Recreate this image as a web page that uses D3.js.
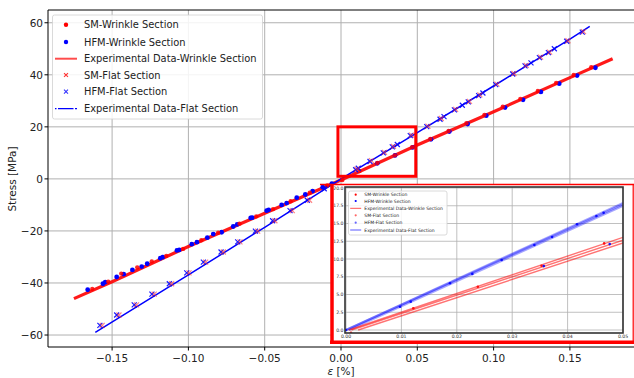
<!DOCTYPE html>
<html>
<head>
<meta charset="utf-8">
<script src="https://cdn.jsdelivr.net/npm/d3@7"></script>
<style>
  body { margin: 0; background: #fff; }
  svg { display: block; font-family: "DejaVu Sans", sans-serif; }
</style>
</head>
<body>
<svg id="chart" width="634" height="378"></svg>
<script>
// ---- data ----
// experimental curves
var expWrinkleX = [-0.175, -0.15, -0.1, -0.05, 0, 0.05, 0.1, 0.15, 0.178]
var expWrinkleY = [-46, -39.5, -26, -13.2, -0.4, 13, 25.8, 38.9, 46.2]
var expFlatX = [-0.161, -0.1, -0.05, 0, 0.05, 0.1, 0.15, 0.163]
var expFlatY = [-59, -36.9, -18.6, 0, 17.8, 35.7, 53.7, 58.6]

// HFM wrinkle section (blue dots)
var hfmWrinkleX = [-0.166, -0.156, -0.1545, -0.147, -0.1424, -0.1367, -0.1306, -0.127, -0.1184, -0.1168,
  -0.1075, -0.106, -0.0978, -0.0944, -0.0876, -0.0837, -0.0782, -0.0706, -0.068, -0.0592, -0.0582,
  -0.0487, -0.0474, -0.0389, -0.0356, -0.029, -0.0234, -0.0186, -0.012, -0.006,
  0.0238, 0.0354, 0.047, 0.059, 0.071, 0.083, 0.0952, 0.1075, 0.1193, 0.131, 0.143, 0.1547, 0.1667]
var hfmWrinkleY = [-42.6, -40.3, -39.7, -37.7, -36.6, -35, -33.7, -32.6, -30.5, -30.1,
  -27.5, -27.3, -25.1, -24.3, -22.6, -21.2, -20.5, -18.3, -17.5, -15, -14.9,
  -12.2, -11.9, -10, -9.3, -7.2, -6, -4.7, -3.2, -1.8,
  6.0, 9.0, 12.1, 15.2, 18.2, 21.1, 24.3, 27.4, 30.4, 33.4, 36.6, 39.7, 42.7]

// SM wrinkle section (red dots)
var smWrinkleX = [-0.163, -0.1525, -0.144, -0.1335, -0.124, -0.1145, -0.1035, -0.0915, -0.0805, -0.0665,
  -0.0555, -0.0445, -0.033, -0.0205, -0.009,
  0.0009, 0.01215, 0.0238, 0.0353, 0.0466, 0.0585, 0.0705, 0.0822, 0.094, 0.106, 0.1175, 0.129, 0.141, 0.1525, 0.164]
var smWrinkleY = [-42.3, -39.5, -36.4, -34, -31.7, -29.6, -26.9, -23.6, -20.7, -17.2,
  -14.4, -11.6, -8.6, -5.3, -2.5,
  -0.4, 3.05, 6.1, 9.05, 12.2, 15.3, 18.4, 21.4, 24.6, 27.7, 30.7, 33.8, 36.9, 39.9, 42.9]

// HFM flat section (blue x)
var hfmFlatX = [-0.158, -0.147, -0.1355, -0.1239, -0.1125, -0.1011, -0.0902, -0.0786, -0.0677, -0.0561,
  -0.0448, -0.0334, -0.0221, -0.011,
  0.0096, 0.0113, 0.019, 0.0277, 0.0336, 0.0369, 0.0454, 0.0562, 0.0649, 0.0675, 0.0743, 0.0795, 0.0834,
  0.0902, 0.093, 0.1014, 0.1125, 0.1206, 0.1245, 0.13, 0.1359, 0.1398, 0.1479, 0.1581]
var hfmFlatY = [-56.3, -52.3, -48.4, -44.3, -40.3, -36.1, -32, -28.1, -24.2, -20.1,
  -16.1, -12.2, -8.2, -3.8,
  3.5, 4.1, 6.7, 10, 12.3, 13.2, 16.6, 20.1, 22.9, 23.9, 26.5, 28.3, 29.6,
  32, 33, 36.2, 40.3, 43.4, 44.6, 46.6, 48.5, 50, 52.9, 56.4]

// SM flat section (red x)
var smFlatX = [-0.1565, -0.1455, -0.134, -0.1224, -0.111, -0.0996, -0.0887, -0.0771, -0.0662, -0.0546,
  -0.0433, -0.0319, -0.0206,
  0.0104, 0.0199, 0.0285, 0.0344, 0.0462, 0.057, 0.0657, 0.0751, 0.0842, 0.091, 0.1022, 0.1133,
  0.1214, 0.1308, 0.1367, 0.1487, 0.1589]
var smFlatY = [-56.3, -52.3, -48.4, -44.3, -40.3, -36.1, -32, -28.1, -24.2, -20.1,
  -16.1, -12.2, -8.2,
  3.7, 7.0, 10.2, 12.5, 16.8, 20.3, 23.2, 26.7, 29.8, 32.3, 36.4, 40.5,
  43.6, 46.8, 48.7, 53.1, 56.6]

// inset: experimental bands and model points
var insetWrinkleLinesX = [[0.0005, 0.05], [0.001, 0.05], [0.0022, 0.05]]
var insetWrinkleLinesY = [[0, 13.05], [0, 12.65], [0, 12.25]]
var insetFlatLinesX = [[0, 0.05], [0, 0.05], [0.0005, 0.05]]
var insetFlatLinesY = [[0, 17.9], [0, 17.7], [0, 17.5]]
var insetSmWrinkleX = [0.0009, 0.01215, 0.0238, 0.0353, 0.0466]
var insetSmWrinkleY = [-0.4, 3.05, 6.1, 9.05, 12.2]
var insetHfmWrinkleX = [0.0357, 0.0476]
var insetHfmWrinkleY = [9.0, 12.1]
var insetHfmFlatX = [0, 0.00975, 0.01168, 0.01877, 0.0228, 0.0281, 0.034, 0.0372, 0.0417, 0.0452, 0.0465]
var insetHfmFlatY = [0, 3.28, 3.99, 6.58, 7.9, 9.86, 11.97, 13.1, 14.9, 16.05, 16.5]

var xTicks = [-0.15, -0.10, -0.05, 0.00, 0.05, 0.10, 0.15]
var yTicks = [-60, -40, -20, 0, 20, 40, 60]
var insetXTicks = [0, 0.01, 0.02, 0.03, 0.04, 0.05]
var insetYTicks = [0, 2.5, 5, 7.5, 10, 12.5, 15, 17.5, 20]

var legendLabels = ['SM-Wrinkle Section', 'HFM-Wrinkle Section', 'Experimental Data-Wrinkle Section',
  'SM-Flat Section', 'HFM-Flat Section', 'Experimental Data-Flat Section']

// ---- setup ----
var svg = d3.select('#chart')
var zip = (xs, ys) => xs.map((v, i) => [v, ys[i]])
var minus = s => s.replace('-', '\u2212')

var x = d3.scaleLinear().domain([-0.192, 0.192]).range([48, 634])
var y = d3.scaleLinear().domain([-64.6, 64.9]).range([347, 10])

svg.append('clipPath').attr('id', 'plotclip')
  .append('rect').attr('x', 48).attr('y', 10).attr('width', 586).attr('height', 337)

// grid
var grid = svg.append('g').attr('stroke', '#b0b0b0').attr('stroke-width', 1)
grid.selectAll('.gx').data(xTicks).enter().append('line')
  .attr('x1', d => x(d)).attr('x2', d => x(d)).attr('y1', 10).attr('y2', 347)
grid.selectAll('.gy').data(yTicks).enter().append('line')
  .attr('x1', 48).attr('x2', 634).attr('y1', d => y(d)).attr('y2', d => y(d))

var plot = svg.append('g').attr('clip-path', 'url(#plotclip)')
var line = d3.line().x(d => x(d[0])).y(d => y(d[1]))

plot.append('path').datum(zip(expWrinkleX, expWrinkleY))
  .attr('d', line).attr('fill', 'none').attr('stroke', '#ff0000').attr('stroke-width', 3.2)
  .attr('stroke-opacity', 0.9)
plot.append('path').datum(zip(expFlatX, expFlatY))
  .attr('d', line).attr('fill', 'none').attr('stroke', '#0000ff').attr('stroke-width', 1.5)

function dots (g, data, sx, sy, color, r, op) {
  g.append('g').selectAll('circle').data(data).enter().append('circle')
    .attr('cx', d => sx(d[0])).attr('cy', d => sy(d[1])).attr('r', r)
    .attr('fill', color).attr('fill-opacity', op)
}
function crosses (g, data, sx, sy, color, s, op) {
  g.append('g').selectAll('path').data(data).enter().append('path')
    .attr('d', d => {
      var cx = sx(d[0]), cy = sy(d[1])
      return `M${cx - s},${cy - s}L${cx + s},${cy + s}M${cx - s},${cy + s}L${cx + s},${cy - s}`
    })
    .attr('stroke', color).attr('stroke-width', 1.2).attr('stroke-opacity', op).attr('fill', 'none')
}

dots(plot, zip(hfmWrinkleX, hfmWrinkleY), x, y, '#0000ff', 2.4, 1)
dots(plot, zip(smWrinkleX, smWrinkleY), x, y, '#ff0000', 2.2, 0.85)
crosses(plot, zip(hfmFlatX, hfmFlatY), x, y, '#0000ff', 2.5, 0.9)
crosses(plot, zip(smFlatX, smFlatY), x, y, '#ff3030', 2.5, 0.6)

// zoom indicator box
svg.append('rect')
  .attr('x', x(-0.002)).attr('y', y(20)).attr('width', x(0.049) - x(-0.002)).attr('height', y(1) - y(20))
  .attr('fill', 'none').attr('stroke', '#ff0000').attr('stroke-width', 3)

// spines
svg.append('line').attr('x1', 48).attr('x2', 634).attr('y1', 10).attr('y2', 10).attr('stroke', '#000')
svg.append('line').attr('x1', 48).attr('x2', 48).attr('y1', 10).attr('y2', 347).attr('stroke', '#000')
svg.append('line').attr('x1', 48).attr('x2', 634).attr('y1', 347).attr('y2', 347).attr('stroke', '#000')

// axes ticks & labels
var axes = svg.append('g').attr('font-size', 10.5).attr('fill', '#222')
axes.selectAll('.xt').data(xTicks).enter().append('line')
  .attr('x1', d => x(d)).attr('x2', d => x(d)).attr('y1', 347).attr('y2', 350.5).attr('stroke', '#000')
axes.selectAll('.xl').data(xTicks).enter().append('text')
  .attr('x', d => x(d)).attr('y', 362).attr('text-anchor', 'middle')
  .text(d => minus(d3.format('.2f')(d)))
axes.selectAll('.yt').data(yTicks).enter().append('line')
  .attr('x1', 44.5).attr('x2', 48).attr('y1', d => y(d)).attr('y2', d => y(d)).attr('stroke', '#000')
axes.selectAll('.yl').data(yTicks).enter().append('text')
  .attr('x', 43).attr('y', d => y(d) + 4).attr('text-anchor', 'end')
  .text(d => minus(String(d)))

axes.append('text').attr('x', 341).attr('y', 375).attr('text-anchor', 'middle')
  .html('<tspan font-style="italic">ε</tspan> [%]')
axes.append('text').attr('transform', 'translate(16,179) rotate(-90)').attr('text-anchor', 'middle')
  .text('Stress [MPa]')

// ---- legends ----
function legend (g, lx, ly, w, h, rowY, mx, tx, fs, ms, faint) {
  g.append('rect').attr('x', lx).attr('y', ly).attr('width', w).attr('height', h).attr('rx', 2)
    .attr('fill', '#fff').attr('fill-opacity', 0.85).attr('stroke', '#d0d0d0').attr('stroke-width', 0.8)
  var kinds = ['dotR', 'dotB', 'lineR', 'xR', 'xB', 'lineB']
  kinds.forEach((k, i) => {
    var cy = rowY[i]
    if (k === 'dotR' || k === 'dotB') {
      g.append('circle').attr('cx', mx).attr('cy', cy).attr('r', ms)
        .attr('fill', k === 'dotR' ? '#ff0000' : '#0000ff')
    } else if (k === 'lineR') {
      g.append('line').attr('x1', mx - 11 * ms / 2.2).attr('x2', mx + 11 * ms / 2.2).attr('y1', cy).attr('y2', cy)
        .attr('stroke', '#ff0000').attr('stroke-width', ms * 0.9).attr('stroke-opacity', 0.7)
    } else if (k === 'lineB') {
      g.append('line').attr('x1', mx - 11 * ms / 2.2).attr('x2', mx + 11 * ms / 2.2).attr('y1', cy).attr('y2', cy)
        .attr('stroke', '#0000ff').attr('stroke-width', ms * 0.6)
        .attr('stroke-dasharray', faint ? null : '1.5,1.5,14,0')
    } else {
      var col = k === 'xR' ? '#ff0000' : '#0000ff'
      if (faint) {
        g.append('circle').attr('cx', mx).attr('cy', cy).attr('r', ms).attr('fill', col).attr('fill-opacity', 0.6)
      } else {
        var s = ms * 0.9
        g.append('path').attr('d', `M${mx - s},${cy - s}L${mx + s},${cy + s}M${mx - s},${cy + s}L${mx + s},${cy - s}`)
          .attr('stroke', col).attr('stroke-width', 1.1).attr('stroke-opacity', 0.8)
      }
    }
    g.append('text').attr('x', tx).attr('y', cy + fs * 0.36).attr('font-size', fs).attr('fill', '#222')
      .text(legendLabels[i])
  })
}
legend(svg.append('g'), 52.5, 15, 210, 104, [24.7, 42, 58.7, 75, 91.7, 108.7], 66, 84, 9.9, 2.2, false)

// ---- inset ----
var inset = svg.append('g')
inset.append('rect').attr('x', 331).attr('y', 184.5).attr('width', 305).attr('height', 158)
  .attr('fill', '#fff')
inset.append('line').attr('x1', 320).attr('x2', 634).attr('y1', 184.5).attr('y2', 184.5)
  .attr('stroke', '#ff0000').attr('stroke-width', 1.3)
inset.append('line').attr('x1', 332).attr('x2', 332).attr('y1', 184).attr('y2', 344)
  .attr('stroke', '#ff0000').attr('stroke-width', 3.5)
inset.append('line').attr('x1', 330).attr('x2', 634).attr('y1', 342.3).attr('y2', 342.3)
  .attr('stroke', '#ff0000').attr('stroke-width', 3.5)
inset.append('line').attr('x1', 633.2).attr('x2', 633.2).attr('y1', 184).attr('y2', 344)
  .attr('stroke', '#ff0000').attr('stroke-width', 1.2)

var xi = d3.scaleLinear().domain([0, 0.05]).range([346, 623])
var yi = d3.scaleLinear().domain([0, 20]).range([330, 188])
var lineI = d3.line().x(d => xi(d[0])).y(d => yi(d[1]))

inset.append('clipPath').attr('id', 'insetclip')
  .append('rect').attr('x', 345).attr('y', 187).attr('width', 278).attr('height', 146)

var ig = inset.append('g').attr('stroke', '#b0b0b0').attr('stroke-width', 0.8)
ig.selectAll('.gx').data(insetXTicks).enter().append('line')
  .attr('x1', d => xi(d)).attr('x2', d => xi(d)).attr('y1', 187).attr('y2', 333)
ig.selectAll('.gy').data(insetYTicks).enter().append('line')
  .attr('x1', 345).attr('x2', 623).attr('y1', d => yi(d)).attr('y2', d => yi(d))

var ip = inset.append('g').attr('clip-path', 'url(#insetclip)')
insetFlatLinesX.forEach((xs, i) => {
  ip.append('path').datum(zip(xs, insetFlatLinesY[i])).attr('d', lineI)
    .attr('fill', 'none').attr('stroke', '#0000ff').attr('stroke-width', 2.2).attr('stroke-opacity', 0.35)
})
insetWrinkleLinesX.forEach((xs, i) => {
  ip.append('path').datum(zip(xs, insetWrinkleLinesY[i])).attr('d', lineI)
    .attr('fill', 'none').attr('stroke', '#ff0000').attr('stroke-width', 1.4).attr('stroke-opacity', 0.55)
})
dots(ip, zip(insetHfmFlatX, insetHfmFlatY), xi, yi, '#0000ff', 1.3, 0.9)
dots(ip, zip(insetSmWrinkleX, insetSmWrinkleY), xi, yi, '#ff0000', 1.3, 0.9)
dots(ip, zip(insetHfmWrinkleX, insetHfmWrinkleY), xi, yi, '#0000ff', 1.3, 0.9)

inset.append('rect').attr('x', 345).attr('y', 187).attr('width', 278).attr('height', 146)
  .attr('fill', 'none').attr('stroke', '#333').attr('stroke-width', 1.6)

var il = inset.append('g').attr('font-size', 4.6).attr('fill', '#333')
il.selectAll('.xl').data(insetXTicks).enter().append('text')
  .attr('x', d => xi(d)).attr('y', 337.5).attr('text-anchor', 'middle')
  .text(d => d3.format('.2f')(d))
il.selectAll('.yl').data(insetYTicks).enter().append('text')
  .attr('x', 343.5).attr('y', d => yi(d) + 1.6).attr('text-anchor', 'end')
  .text(d => d3.format('.1f')(d))

legend(inset.append('g'), 348.5, 191, 98.5, 44, [194.7, 201, 208.3, 215.3, 222.7, 230], 355.7, 364.3, 4.5, 1.1, true)
</script>
</body>
</html>
